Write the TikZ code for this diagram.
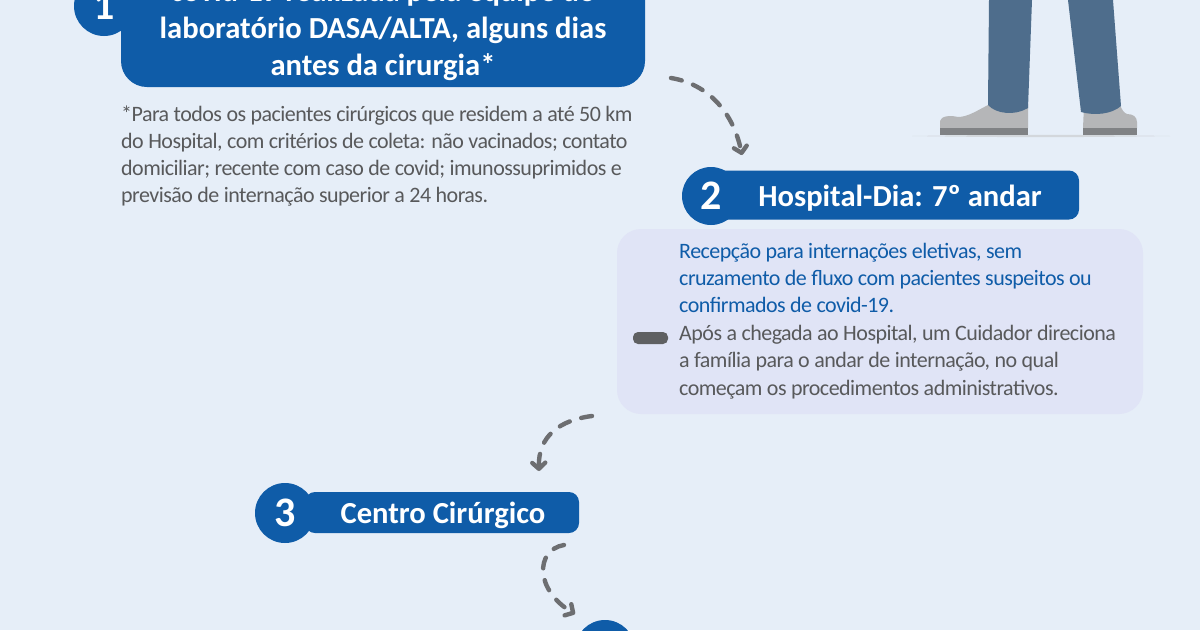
\documentclass[tikz,border=0pt]{standalone}
\usepackage{fontspec}
\setmainfont{Carlito}
\newfontfamily\bodyface[LetterSpace=-2.4]{Carlito}
\usetikzlibrary{arrows.meta}
\definecolor{bgc}{HTML}{E6EEF8}
\definecolor{bluec}{HTML}{0F5CA8}
\definecolor{panelc}{HTML}{E0E4F6}
\definecolor{txtc}{HTML}{58595B}
\definecolor{dashc}{HTML}{6D6E71}
\definecolor{markc}{HTML}{5F6062}
\definecolor{legc}{HTML}{4E6D8C}
\definecolor{shoec}{HTML}{B5B6B8}
\definecolor{solec}{HTML}{808285}
\definecolor{groundc}{HTML}{D3D7DC}
\tikzset{
  pill/.style={fill=bluec,rounded corners=#1,inner sep=0pt,draw=none},
  badge/.style={circle,fill=bluec,text=white,inner sep=0pt,minimum size=60pt,font=\bfseries\fontsize{42}{42}\selectfont},
  title/.style={text=white,inner sep=0pt,anchor=base,font=\bfseries\fontsize{30.6}{30.6}\selectfont},
  body/.style={inner sep=0pt,anchor=base west,font=\bodyface\fontsize{22}{22}\selectfont},
  flow/.style={draw=dashc,line width=4.4pt,line cap=round,dash pattern=on 11pt off 12pt,-{Straight Barb[length=6pt,width=13pt,round]}},
}
\begin{document}
\begin{tikzpicture}[x=1pt,y=-1pt]
\useasboundingbox (0,0) rectangle (1200,630);
\clip (0,0) rectangle (1200,630);
\fill[bgc] (0,0) rectangle (1200,630);
% figure
\fill[groundc] (912,136) .. controls (1000,134.5) and (1080,134.5) .. (1170,136) .. controls (1080,137.5) and (1000,137.5) .. (912,136) -- cycle;
\fill[shoec] (940,128) -- (940,121) .. controls (941,116) and (950,115) .. (958,117) .. controls (968,117) and (978,110) .. (990,104) -- (1028,104) -- (1028,128) -- cycle;
\fill[solec] (940,128) rectangle (1028,135);
\fill[shoec] (1083,128) -- (1084,105) -- (1120,105) .. controls (1122,110) and (1124,113) .. (1127,114) .. controls (1133,114) and (1137,117) .. (1137,122) -- (1137,128) -- cycle;
\fill[solec] (1083,128) rectangle (1137,135);
\fill[legc] (989,0) -- (1032,0) -- (1028,108) .. controls (1015,116) and (996,114) .. (988,105) -- cycle;
\fill[legc] (1068,0) -- (1113,0) -- (1121,106) .. controls (1112,114) and (1095,116) .. (1081,112) -- cycle;
% step 1
\node[pill=26pt,minimum width=524pt,minimum height=147pt] (p1) at (383,13.5) {};
\node[badge] (b1) at (104,6) {\raisebox{-3pt}{1}};
\node[title] (t1a) at (383,1.5) {covid-19 realizada pela equipe do};
\node[title] (t1b) at (383,38) {laboratório DASA/ALTA, alguns dias};
\node[title] (t1c) at (383,75) {antes da cirurgia*};
\node[body,text=txtc] (n1) at (121,121) {*Para todos os pacientes cirúrgicos que residem a até 50 km};
\node[body,text=txtc] (n2) at (121,148) {do Hospital, com critérios de coleta: não vacinados; contato};
\node[body,text=txtc] (n3) at (121,175) {domiciliar; recente com caso de covid; imunossuprimidos e};
\node[body,text=txtc] (n4) at (121,202) {previsão de internação superior a 24 horas.};
% step 2
\node[pill=10pt,minimum width=364pt,minimum height=49pt] (p2) at (897,195) {};
\node[badge,minimum size=58pt] (b2) at (711,196) {2};
\node[title] (t2) at (900,206) {Hospital-Dia: 7º andar};
\node[pill=24pt,fill=panelc,minimum width=526pt,minimum height=185pt] (panel) at (880,321.5) {};
\node[body,text=bluec] (r1) at (679,258) {Recepção para internações eletivas, sem};
\node[body,text=bluec] (r2) at (679,285) {cruzamento de fluxo com pacientes suspeitos ou};
\node[body,text=bluec] (r3) at (679,312) {confirmados de covid-19.};
\node[body,text=txtc] (r4) at (679,340) {Após a chegada ao Hospital, um Cuidador direciona};
\node[body,text=txtc] (r5) at (679,367) {a família para o andar de internação, no qual};
\node[body,text=txtc] (r6) at (679,395) {começam os procedimentos administrativos.};
\node[pill=5pt,fill=markc,minimum width=35pt,minimum height=12pt] (mark) at (650.5,338) {};
% step 3
\node[pill=10pt,minimum width=274pt,minimum height=41pt] (p3) at (442,512.5) {};
\node[badge] (b3) at (285,513) {3};
\node[title] (t3) at (443,523) {Centro Cirúrgico};
% step 4
\node[badge] (b4) at (605,650) {};
% connectors
\coordinate (a1) at (671,78);
\coordinate (a2) at (742,155);
\coordinate (a3) at (592,416);
\coordinate (a4) at (539,471);
\coordinate (a5) at (564,545);
\coordinate (a6) at (575,614);
\draw[flow] (a1) .. controls (708,84) and (733,112) .. (a2);
\draw[flow] (a3) .. controls (560,420) and (538,436) .. (a4);
\draw[flow] (a5) .. controls (535,550) and (535,590) .. (a6);
\end{tikzpicture}
\end{document}
